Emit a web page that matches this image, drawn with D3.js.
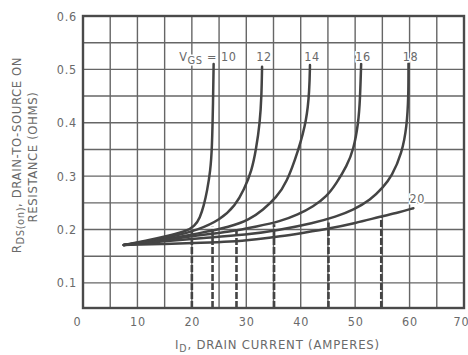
<!DOCTYPE html>
<html><head><meta charset="utf-8">
<script src="https://cdn.jsdelivr.net/npm/d3@7"></script>
<style>
body{margin:0;background:#fff;}
svg{display:block;}
text{font-family:"DejaVu Sans Condensed","Liberation Sans Narrow","Arial Narrow",sans-serif;fill:#6a6a6a;}
</style></head>
<body><svg id="c" width="468" height="355"></svg>
<script>
// ---- data ----
const xTickLabels = [0,10,20,30,40,50,60,70];
const yTickLabels = [0.1,0.2,0.3,0.4,0.5,0.6];
const vgsLabels = ["10","12","14","16","18","20"];
const vgs10 = [[7.5,0.171],[12,0.180],[16,0.189],[19,0.197],[20.5,0.206],[21.5,0.222],[22.2,0.245],[22.8,0.272],[23.4,0.31],[23.7,0.35],[23.9,0.44],[24.0,0.51]];
const vgs12 = [[7.5,0.171],[12,0.178],[17,0.188],[21,0.199],[25.2,0.218],[28,0.245],[29.6,0.275],[31,0.31],[31.8,0.35],[32.5,0.40],[32.8,0.45],[32.9,0.505]];
const vgs14 = [[7.5,0.171],[14,0.180],[21.5,0.193],[27,0.205],[30.5,0.218],[33.1,0.237],[35.5,0.26],[37.4,0.287],[39.6,0.349],[41.1,0.405],[41.6,0.46],[41.7,0.508]];
const vgs16 = [[7.5,0.171],[15,0.180],[21,0.189],[27,0.196],[32,0.206],[36.2,0.215],[39.5,0.228],[42.3,0.243],[44.8,0.262],[46.6,0.287],[48.5,0.32],[49.7,0.349],[50.6,0.40],[50.9,0.443],[51.1,0.51]];
const vgs18 = [[7.5,0.171],[15,0.178],[22,0.184],[30.1,0.190],[36,0.199],[42.3,0.212],[46.5,0.224],[49.7,0.237],[52.8,0.255],[55.2,0.280],[56.7,0.299],[58.6,0.343],[59.5,0.393],[59.8,0.45],[59.8,0.511]];
const vgs20 = [[7.5,0.171],[15,0.173],[22,0.175],[27,0.177],[32,0.182],[36.2,0.187],[40.5,0.194],[45.4,0.202],[50,0.212],[54.6,0.224],[58,0.232],[60.7,0.240]];
const dashX = [20, 23.8, 28.2, 35.1, 45.1, 54.8];
const dashTop = [0.198, 0.205, 0.203, 0.210, 0.213, 0.224];

// ---- layout ----
const L=83, R=464, T=16, B=308;
const svg = d3.select("#c");
const x = d3.scaleLinear().domain([0,70]).range([L,R]);
const y = d3.scaleLinear().domain([0.053,0.6]).range([B,T]);

// grid
const g = svg.append("g");
g.selectAll("line.v").data(d3.range(5,70,5)).join("line")
  .attr("x1",d=>x(d)).attr("x2",d=>x(d)).attr("y1",T).attr("y2",B)
  .attr("stroke","#666").attr("stroke-width",1.4);
g.selectAll("line.h").data(d3.range(0.1,0.6,0.05).map(v=>+v.toFixed(2))).join("line")
  .attr("x1",L).attr("x2",R).attr("y1",d=>y(d)).attr("y2",d=>y(d))
  .attr("stroke","#666").attr("stroke-width",1.4);

// axes labels via d3 axes
const xa = svg.append("g").attr("transform",`translate(0,${B})`)
  .call(d3.axisBottom(x).tickValues(xTickLabels).tickSize(0).tickPadding(9).tickFormat(d3.format("d")));
xa.select(".domain").remove();
xa.selectAll("text").attr("font-size",12.5).attr("letter-spacing",0.8).attr("fill","#6a6a6a")
  .attr("dx",d=>d===0?-6:(d===70?-3:0));
const ya = svg.append("g").attr("transform",`translate(${L},0)`)
  .call(d3.axisLeft(y).tickValues(yTickLabels).tickSize(0).tickPadding(6).tickFormat(d3.format(".1f")));
ya.select(".domain").remove();
ya.selectAll("text").attr("font-size",12.5).attr("letter-spacing",0.8).attr("fill","#6a6a6a");

// dashed verticals
svg.append("g").selectAll("line").data(dashX).join("line")
  .attr("x1",d=>x(d)).attr("x2",d=>x(d)).attr("y1",B).attr("y2",(d,i)=>y(dashTop[i]))
  .attr("stroke","#444").attr("stroke-width",2.6).attr("stroke-dasharray","7,2");

// curves
const line = d3.line().x(d=>x(d[0])).y(d=>y(d[1])).curve(d3.curveBasis);
svg.append("g").selectAll("path").data([vgs10,vgs12,vgs14,vgs16,vgs18,vgs20]).join("path")
  .attr("d",line).attr("fill","none").attr("stroke","#444").attr("stroke-width",2.5)
  .attr("stroke-linecap","round");

// border
svg.append("rect").attr("x",L).attr("y",T).attr("width",R-L).attr("height",B-T)
  .attr("fill","none").attr("stroke","#4a4a4a").attr("stroke-width",2.4);

// curve labels
const ends = [vgs10,vgs12,vgs14,vgs16,vgs18];
const lab = svg.append("g");
ends.forEach((s,i)=>{
  const e = s[s.length-1];
  const t = lab.append("text").attr("y",y(0.516))
    .attr("font-size",12.5).attr("letter-spacing",0.6)
    .attr("stroke","#fff").attr("stroke-width",3).attr("paint-order","stroke");
  if(i===0){
    t.attr("x",x(e[0])+23).attr("text-anchor","end");
    t.append("tspan").text("V");
    t.append("tspan").attr("dy",3).attr("font-size",11).text("GS");
    t.append("tspan").attr("dy",-3).text(" =  " + vgsLabels[i]);
  } else t.attr("x",x(e[0])+2).attr("text-anchor","middle").text(vgsLabels[i]);
});
const e20 = vgs20[vgs20.length-1];
lab.append("text").attr("x",x(e20[0])+4).attr("y",y(0.25)).attr("text-anchor","middle")
  .attr("font-size",12.5).attr("letter-spacing",0.6)
  .attr("stroke","#fff").attr("stroke-width",3).attr("paint-order","stroke").text(vgsLabels[5]);

// axis titles
const xt = svg.append("text").attr("x",(L+R)/2+4).attr("y",349).attr("text-anchor","middle")
  .attr("font-size",13).attr("letter-spacing",0.8);
xt.append("tspan").text("I");
xt.append("tspan").attr("dy",3).attr("font-size",10.5).text("D");
xt.append("tspan").attr("dy",-3).text(", DRAIN CURRENT (AMPERES)");

const yt = svg.append("text").attr("transform","translate(21,155) rotate(-90)").attr("text-anchor","middle")
  .attr("font-size",13).attr("letter-spacing",0.6);
yt.append("tspan").text("R");
yt.append("tspan").attr("dy",3).attr("font-size",11).text("DS(on)");
yt.append("tspan").attr("dy",-3).text(", DRAIN-TO-SOURCE ON");
svg.append("text").attr("transform","translate(37,157) rotate(-90)").attr("text-anchor","middle")
  .attr("font-size",13).attr("letter-spacing",0.6).text("RESISTANCE (OHMS)");
</script></body></html>
